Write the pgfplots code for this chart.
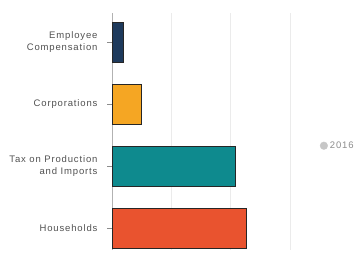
\documentclass[border=0pt]{standalone}
\usepackage{pgfplots}
\pgfplotsset{compat=1.18}
\usepackage{fontspec}
\setmainfont{Liberation Sans}
\newfontfamily\lbl[LetterSpace=9]{Liberation Sans}
\definecolor{navy}{HTML}{1E3A5C}
\definecolor{orng}{HTML}{F5A623}
\definecolor{teal2}{HTML}{0E8A8E}
\definecolor{red2}{HTML}{E9532F}
\definecolor{txt}{HTML}{505050}
\begin{document}
\begin{tikzpicture}[x=1pt,y=1pt]
\path[use as bounding box] (0,0) rectangle (355,254);
\begin{axis}[
  at={(112pt,4pt)}, anchor=south west,
  scale only axis, width=178pt, height=237pt,
  xmin=0, xmax=300,
  ymin=-0.35, ymax=3.47,
  xbar, bar width=40pt, bar shift=0pt,
  axis line style={draw=none},
  xtick={100,200,300}, xticklabels={},
  xmajorgrids, grid style={draw=black!8, line width=0.6pt},
  extra x ticks={0}, extra x tick labels={},
  extra x tick style={grid style={draw=black!30, line width=0.7pt}, major tick length=0pt},
  x tick style={draw=none},
  ytick={0,1,2,3}, ytick pos=left,
  yticklabels={{Households},{Tax on Production\\and Imports},{Corporations},{Employee\\Compensation}},
  yticklabel style={align=right, font=\lbl\fontsize{9.5}{11.5}\selectfont, text=txt},
  y tick style={draw=black!45, line width=0.6pt},
  tick align=outside, major tick length=5pt,
  yticklabel style={xshift=-6pt},
  legend style={at={(1.15,0.44)}, anchor=west, draw=none, fill=none,
    font=\lbl\fontsize{9.5}{11.5}\selectfont, text=black!45},
  legend cell align=left,
]
\addplot[draw=black!85, fill=navy, line width=0.7pt, forget plot] coordinates {(19,3)};
\addplot[draw=black!85, fill=orng, line width=0.7pt, forget plot] coordinates {(49,2)};
\addplot[draw=black!85, fill=teal2, line width=0.7pt, forget plot] coordinates {(208,1)};
\addplot[draw=black!85, fill=red2, line width=0.7pt, forget plot] coordinates {(227,0)};
\addlegendimage{legend image code/.code={\fill[black!22] (0.3em-3pt,0) circle (3.8pt);}}
\addlegendentry{2016}
\end{axis}
\end{tikzpicture}
\end{document}
